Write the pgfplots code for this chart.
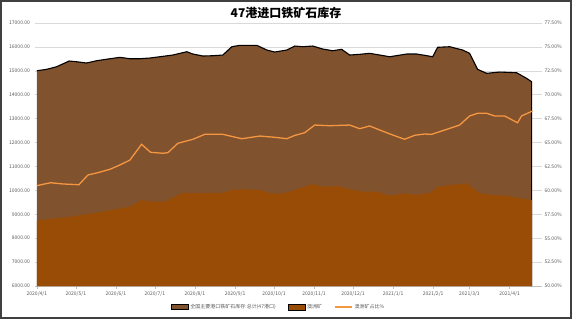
\documentclass[border=0pt]{standalone}
\usepackage{fontspec}
\setmainfont{Noto Sans CJK SC}
\usepackage{pgfplots}
\pgfplotsset{compat=1.18}
\definecolor{totalc}{RGB}{128,82,46}
\definecolor{ausc}{RGB}{153,76,6}
\definecolor{ratioc}{RGB}{245,150,65}
\definecolor{gridc}{RGB}{217,217,217}
\definecolor{framec}{RGB}{64,64,64}
\definecolor{axisc}{RGB}{191,191,191}
\definecolor{textc}{RGB}{89,89,89}
\begin{document}
\begin{tikzpicture}
\path[use as bounding box] (0pt,0pt) rectangle (572pt,319pt);
\draw[line width=1.6pt, framec] (0.8pt,0.8pt) rectangle (571.2pt,318.2pt);
\node[font=\bfseries\fontsize{12}{14}\selectfont] at (286pt,306pt) {47港进口铁矿石库存};
\begin{axis}[
  at={(35pt,33pt)}, anchor=south west, scale only axis,
  width=507pt, height=263pt,
  xmin=-1.5, xmax=390, ymin=6000, ymax=17000,
  axis x line*=bottom, axis y line*=left,
  y axis line style={draw=none},
  x axis line style={axisc, line width=0.6pt},
  xtick={0,30,61,91,122,153,183,214,244,275,306,334,365},
  xticklabels={2020/4/1,2020/5/1,2020/6/1,2020/7/1,2020/8/1,2020/9/1,2020/10/1,2020/11/1,2020/12/1,2021/1/1,2021/2/1,2021/3/1,2021/4/1},
  xtick style={axisc, line width=0.5pt},
  tick align=outside,
  major tick length=2.5pt,
  ytick={6000,7000,...,17000},
  scaled y ticks=false,
  ytick style={draw=none},
  ymajorgrids, grid style={gridc, line width=0.6pt},
  /pgf/number format/assume math mode=true,
  yticklabel style={font=\fontsize{5}{6}\selectfont, textc, /pgf/number format/fixed, /pgf/number format/fixed zerofill, /pgf/number format/precision=2, /pgf/number format/1000 sep={}, xshift=1pt},
  xticklabel style={font=\fontsize{5}{6}\selectfont, textc, yshift=1pt},
  legend columns=3,
  legend style={draw=none, fill=none, font=\fontsize{5}{6}\selectfont, text=textc,
    at={(0.48,-0.08)}, anchor=center,
    /tikz/every even column/.append style={column sep=10pt}},
]
\addlegendimage{area legend, fill=totalc, draw=black, line width=0.8pt}
\addlegendentry{全国主要港口铁矿石库存:总计(47港口)}
\addlegendimage{area legend, fill=ausc, draw=none}
\addlegendentry{澳洲矿}
\addlegendimage{ratioc, line width=1.3pt}
\addlegendentry{澳洲矿占比\%}
% total inventory (area)
\addplot[fill=totalc, draw=none, forget plot] coordinates {
(0,15004) (7.5,15062) (15.2,15171) (24.9,15410) (30.6,15380) (38.3,15326)
(46.1,15422) (54.8,15493) (64,15564) (71.8,15506) (79.5,15506) (87.2,15535)
(94.9,15589) (104.9,15660) (115.7,15798) (120.4,15702) (128.1,15619) (135.8,15631)
(143.5,15660) (150.5,16008) (156.6,16066) (169.8,16066) (177.5,15870) (183.6,15786)
(192.9,15870) (199.1,16037) (205.2,16008) (213,16037) (220.7,15911) (228.4,15840)
(235.3,15899) (241.5,15660) (249.2,15690) (256.9,15732) (264.7,15660) (272.4,15589)
(285.5,15702) (293.2,15702) (299.4,15648) (305.6,15589) (309.4,15983) (318.7,16008)
(328.7,15870) (334.1,15732) (340.3,15062) (347.2,14895) (357.3,14949) (370.4,14920)
(378.1,14686) (382,14544)
} \closedcycle;
\addplot[black, line width=1.1pt, forget plot] coordinates {
(0,15004) (7.5,15062) (15.2,15171) (24.9,15410) (30.6,15380) (38.3,15326)
(46.1,15422) (54.8,15493) (64,15564) (71.8,15506) (79.5,15506) (87.2,15535)
(94.9,15589) (104.9,15660) (115.7,15798) (120.4,15702) (128.1,15619) (135.8,15631)
(143.5,15660) (150.5,16008) (156.6,16066) (169.8,16066) (177.5,15870) (183.6,15786)
(192.9,15870) (199.1,16037) (205.2,16008) (213,16037) (220.7,15911) (228.4,15840)
(235.3,15899) (241.5,15660) (249.2,15690) (256.9,15732) (264.7,15660) (272.4,15589)
(285.5,15702) (293.2,15702) (299.4,15648) (305.6,15589) (309.4,15983) (318.7,16008)
(328.7,15870) (334.1,15732) (340.3,15062) (347.2,14895) (357.3,14949) (370.4,14920)
(378.1,14686) (382,14544) (382,6000)
};
% Australian ore (area)
\addplot[fill=ausc, draw=none, forget plot] coordinates {
(0,8731) (10,8802) (25.5,8898) (46.1,9065) (61.5,9220) (71.8,9316) (80.8,9597)
(88.5,9525) (98.8,9525) (101.1,9597) (112.7,9902) (123.5,9877) (133.5,9902)
(142.7,9877) (150.5,10015) (159,10044) (172.1,10015) (179.8,9877) (189.8,9877)
(196.8,9973) (202.9,10086) (213,10266) (220.7,10153) (232.3,10182) (241.5,10044)
(251.5,9944) (262.3,9944) (272.4,9776) (283.9,9877) (293.2,9806) (299.4,9877)
(303.2,9877) (309.4,10153) (321,10236) (331.8,10295) (341.8,9877) (351.9,9806)
(362.7,9776) (372.7,9668) (382.4,9597)
} \closedcycle;
\end{axis}
\begin{axis}[
  at={(35pt,33pt)}, anchor=south west, scale only axis,
  width=507pt, height=263pt,
  xmin=-1.5, xmax=390, ymin=50, ymax=77.5,
  axis y line*=right, axis x line=none,
  y axis line style={draw=none},
  ytick={50,52.5,55,57.5,60,62.5,65,67.5,70,72.5,75,77.5},
  ytick style={draw=none},
  yticklabel={\pgfmathprintnumber[fixed,fixed zerofill,precision=2,assume math mode=true]{\tick}\%},
  yticklabel style={font=\fontsize{5}{6}\selectfont, textc, xshift=-1pt},
]
\addplot[ratioc, line width=1.3pt] coordinates {
(0,60.49) (4.6,60.63) (10.6,60.80) (20.1,60.67) (32.4,60.59) (39.4,61.61)
(47.1,61.85) (56.3,62.20) (64,62.65) (71.8,63.17) (80.8,64.82) (87.7,63.98)
(97.2,63.88) (101.1,63.94) (108.8,64.92) (120.4,65.34) (129.6,65.86) (143.5,65.86)
(158.2,65.40) (172.1,65.68) (183.6,65.55) (192.9,65.40) (199,65.74) (206.8,66.03)
(214.5,66.83) (226.1,66.76) (241.5,66.83) (249.2,66.45) (256.9,66.73) (264.7,66.31)
(274.7,65.79) (283.9,65.34) (291.7,65.76) (299.4,65.89) (304.8,65.86) (316.4,66.38)
(326.4,66.83) (334.1,67.78) (340.3,68.06) (347.2,68.06) (353.4,67.78) (361.1,67.78)
(371.1,67.07) (374.2,67.78) (382.7,68.30)
};
\end{axis}
\end{tikzpicture}
\end{document}
